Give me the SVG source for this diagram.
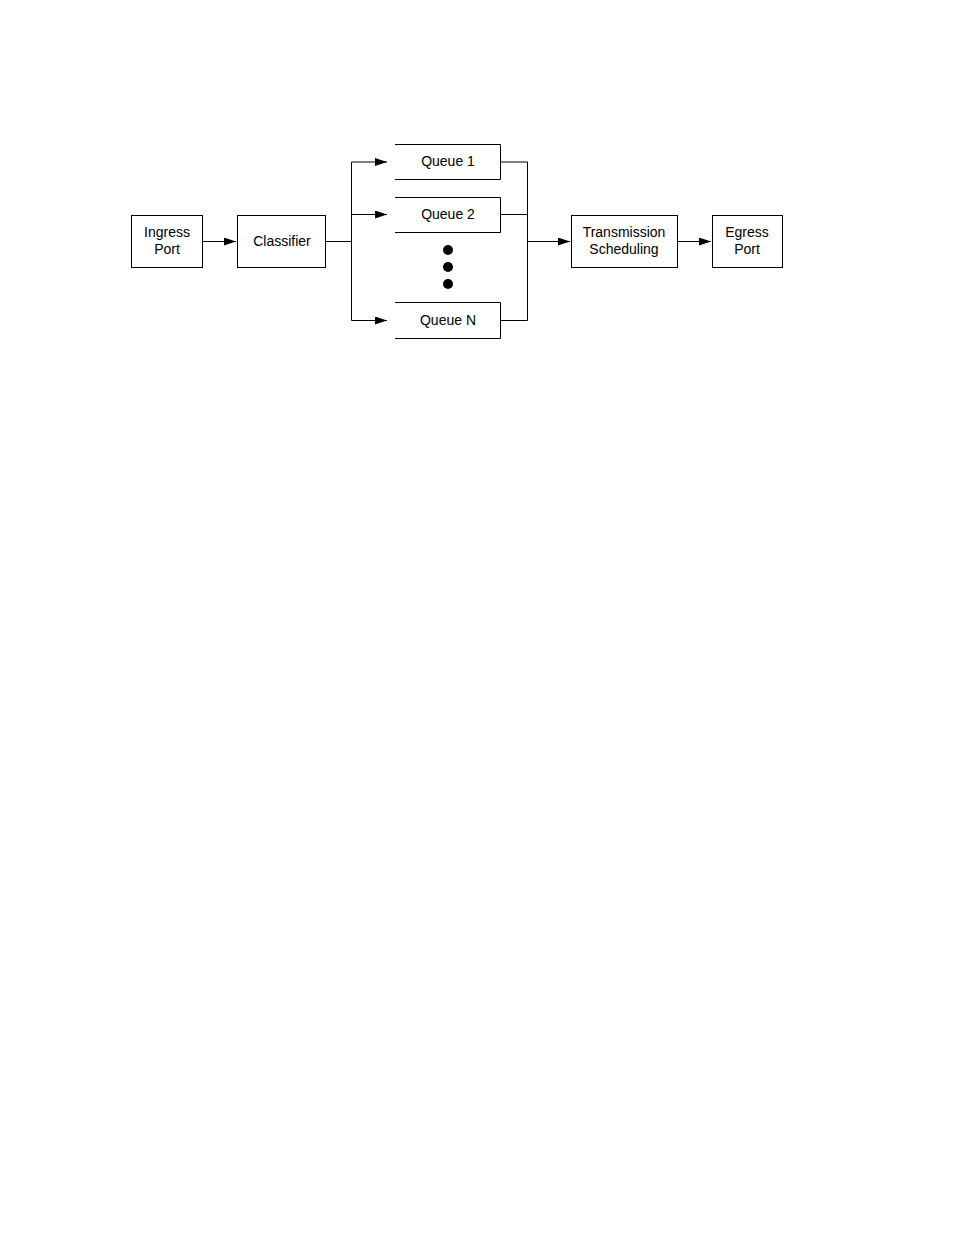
<svg xmlns="http://www.w3.org/2000/svg" width="954" height="1235" viewBox="0 0 954 1235">
<style>
.b{fill:#fff;stroke:#000;stroke-width:1}
.q{fill:none;stroke:#000;stroke-width:1}
.t{font-family:"Liberation Sans",Arial,sans-serif;font-size:14px;text-anchor:middle;fill:#000}
.c{fill:none;stroke:#000;stroke-width:1}
</style>
<defs><marker id="a" markerWidth="12" markerHeight="8" refX="12" refY="4" orient="auto" markerUnits="userSpaceOnUse"><path d="M0,0 L12,4 L0,8 z" fill="#000"/></marker></defs>
<rect width="954" height="1235" fill="#fff"/>
<g id="connectors">
<path class="c" d="M202.5,241.5 H236" marker-end="url(#a)"/>
<path class="c" d="M325,241.5 H351.5 M351.5,162 V320.5"/>
<path class="c" d="M351.5,162 H387" marker-end="url(#a)"/>
<path class="c" d="M351.5,214.5 H387" marker-end="url(#a)"/>
<path class="c" d="M351.5,320.5 H387" marker-end="url(#a)"/>
<path class="c" d="M501,162 H527.5 M501,214.5 H527.5 M501,320.5 H527.5 M527.5,162 V320.5"/>
<path class="c" d="M527.5,241.5 H570" marker-end="url(#a)"/>
<path class="c" d="M677,241.5 H711" marker-end="url(#a)"/>
</g>
<g id="ingress"><rect class="b" x="131.5" y="215.5" width="71" height="52"/><text class="t" x="167" y="237">Ingress</text><text class="t" x="167" y="254">Port</text></g>
<g id="classifier"><rect class="b" x="237.5" y="215.5" width="88" height="52"/><text class="t" x="282" y="246">Classifier</text></g>
<g id="queue1"><path class="q" d="M395,144.5 H500.5 V179.5 H395"/><text class="t" x="448" y="166">Queue 1</text></g>
<g id="queue2"><path class="q" d="M395,197.5 H500.5 V232.5 H395"/><text class="t" x="448" y="219">Queue 2</text></g>
<g id="dots"><circle cx="448" cy="250" r="5"/><circle cx="448" cy="267" r="5"/><circle cx="448" cy="284" r="5"/></g>
<g id="queueN"><path class="q" d="M395,302.5 H500.5 V338.5 H395"/><text class="t" x="448" y="325">Queue N</text></g>
<g id="scheduling"><rect class="b" x="571.5" y="215.5" width="106" height="52"/><text class="t" x="624" y="237">Transmission</text><text class="t" x="624" y="254">Scheduling</text></g>
<g id="egress"><rect class="b" x="712.5" y="215.5" width="70" height="52"/><text class="t" x="747" y="237">Egress</text><text class="t" x="747" y="254">Port</text></g>
</svg>
